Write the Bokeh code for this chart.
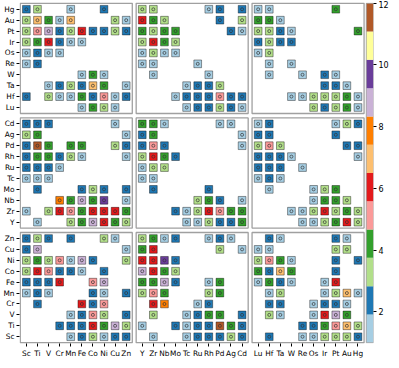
from bokeh.plotting import figure
from bokeh.models import (ColumnDataSource, LinearColorMapper, FixedTicker, Range1d,
                          AllLabels, LinearAxis)
from bokeh.palettes import Paired12
from bokeh.embed import file_html
from bokeh.resources import INLINE

# Row labels (top to bottom within each row block)
row_5d = ["Hg", "Au", "Pt", "Ir", "Os", "Re", "W", "Ta", "Hf", "Lu"]
row_4d = ["Cd", "Ag", "Pd", "Rh", "Ru", "Tc", "Mo", "Nb", "Zr", "Y"]
row_3d = ["Zn", "Cu", "Ni", "Co", "Fe", "Mn", "Cr", "V", "Ti", "Sc"]
# Column labels (left to right within each column block)
col_3d = ["Sc", "Ti", "V", "Cr", "Mn", "Fe", "Co", "Ni", "Cu", "Zn"]
col_4d = ["Y", "Zr", "Nb", "Mo", "Tc", "Ru", "Rh", "Pd", "Ag", "Cd"]
col_5d = ["Lu", "Hf", "Ta", "W", "Re", "Os", "Ir", "Pt", "Au", "Hg"]

# values 1..12 (0 = empty cell); rows top->bottom, columns left->right
m_5d_3d = [
    [2, 3, 0, 0, 1, 0, 0, 2, 0, 0],
    [3, 7, 4, 1, 7, 0, 0, 0, 3, 1],
    [3, 5, 9, 2, 3, 6, 2, 2, 3, 2],
    [3, 4, 6, 2, 1, 1, 0, 0, 0, 0],
    [1, 2, 1, 1, 0, 0, 0, 0, 0, 0],
    [1, 2, 0, 0, 0, 0, 0, 0, 0, 0],
    [0, 0, 0, 0, 0, 1, 4, 1, 0, 0],
    [0, 0, 1, 2, 3, 2, 7, 4, 0, 1],
    [2, 0, 3, 1, 1, 4, 2, 5, 1, 2],
    [0, 0, 0, 0, 0, 1, 4, 3, 1, 0],
]
m_5d_4d = [
    [3, 3, 0, 0, 0, 0, 1, 2, 0, 2],
    [6, 4, 3, 0, 0, 0, 0, 2, 0, 3],
    [4, 3, 4, 4, 0, 0, 0, 0, 2, 1],
    [3, 6, 4, 3, 0, 0, 0, 0, 0, 0],
    [1, 3, 1, 1, 0, 0, 0, 0, 0, 0],
    [1, 1, 0, 0, 0, 1, 0, 0, 0, 0],
    [0, 1, 0, 0, 0, 0, 1, 0, 0, 0],
    [0, 0, 0, 0, 1, 2, 2, 3, 0, 0],
    [0, 0, 0, 1, 2, 2, 2, 5, 2, 2],
    [0, 0, 0, 0, 1, 2, 2, 3, 2, 1],
]
m_5d_5d = [
    [1, 1, 0, 0, 0, 0, 0, 4, 0, 0],
    [4, 4, 1, 0, 0, 0, 0, 0, 0, 0],
    [3, 3, 2, 1, 0, 0, 0, 0, 0, 4],
    [2, 3, 2, 2, 0, 0, 0, 0, 0, 0],
    [1, 3, 0, 0, 0, 0, 0, 0, 0, 0],
    [0, 1, 0, 1, 0, 0, 0, 0, 0, 0],
    [0, 1, 0, 0, 1, 0, 2, 1, 0, 0],
    [0, 0, 0, 0, 0, 0, 2, 2, 1, 0],
    [0, 0, 0, 1, 1, 3, 3, 3, 4, 1],
    [0, 0, 0, 0, 0, 3, 2, 3, 4, 1],
]
m_4d_3d = [
    [2, 2, 2, 0, 0, 0, 0, 0, 1, 0],
    [3, 4, 0, 0, 0, 0, 0, 0, 0, 1],
    [2, 12, 4, 0, 4, 4, 0, 0, 3, 2],
    [2, 4, 4, 2, 3, 1, 0, 0, 0, 1],
    [2, 2, 2, 1, 0, 0, 0, 0, 0, 0],
    [1, 1, 1, 0, 0, 0, 0, 0, 0, 0],
    [0, 2, 0, 0, 0, 2, 3, 2, 0, 2],
    [0, 0, 0, 8, 4, 9, 4, 10, 0, 1],
    [1, 0, 3, 6, 5, 4, 6, 6, 6, 4],
    [0, 1, 0, 0, 3, 4, 9, 6, 4, 3],
]
m_4d_4d = [
    [4, 4, 1, 0, 0, 0, 0, 1, 1, 0],
    [2, 4, 0, 0, 0, 0, 0, 0, 0, 1],
    [2, 5, 2, 0, 0, 0, 0, 0, 0, 1],
    [3, 6, 4, 2, 0, 0, 0, 0, 0, 0],
    [1, 3, 3, 0, 0, 0, 0, 0, 0, 0],
    [1, 1, 0, 0, 0, 0, 0, 0, 0, 0],
    [0, 2, 0, 0, 0, 0, 2, 0, 0, 0],
    [0, 0, 0, 0, 0, 3, 4, 2, 0, 1],
    [0, 0, 0, 2, 1, 3, 6, 5, 4, 4],
    [0, 0, 0, 0, 1, 1, 3, 2, 2, 4],
]
m_4d_5d = [
    [1, 2, 0, 0, 0, 0, 0, 1, 3, 2],
    [2, 2, 0, 0, 0, 0, 0, 2, 0, 0],
    [3, 5, 3, 0, 0, 0, 0, 0, 2, 2],
    [2, 2, 2, 1, 0, 0, 0, 0, 0, 1],
    [2, 2, 2, 0, 1, 0, 0, 0, 0, 0],
    [1, 2, 1, 0, 0, 0, 0, 0, 0, 0],
    [0, 1, 0, 0, 0, 1, 3, 4, 0, 0],
    [0, 0, 0, 0, 0, 1, 4, 4, 3, 0],
    [0, 0, 0, 1, 1, 3, 6, 3, 4, 3],
    [0, 0, 0, 0, 1, 1, 3, 4, 6, 3],
]
m_3d_3d = [
    [2, 3, 2, 0, 2, 0, 0, 3, 1, 0],
    [2, 9, 0, 0, 0, 0, 0, 0, 0, 1],
    [3, 4, 3, 5, 1, 9, 2, 0, 0, 3],
    [3, 6, 5, 2, 2, 1, 0, 2, 0, 0],
    [2, 2, 2, 6, 0, 0, 5, 9, 0, 0],
    [1, 2, 1, 0, 0, 0, 2, 1, 0, 2],
    [0, 2, 0, 0, 0, 6, 2, 5, 0, 0],
    [0, 0, 0, 0, 1, 2, 5, 3, 0, 2],
    [0, 0, 0, 2, 2, 2, 6, 4, 9, 3],
    [0, 0, 0, 0, 1, 2, 3, 1, 2, 2],
]
m_3d_4d = [
    [3, 4, 1, 2, 0, 0, 1, 2, 1, 0],
    [4, 6, 0, 0, 0, 0, 0, 3, 0, 1],
    [6, 6, 10, 2, 0, 0, 0, 0, 0, 0],
    [9, 6, 4, 3, 0, 0, 0, 0, 0, 0],
    [4, 4, 9, 2, 0, 0, 1, 4, 0, 0],
    [3, 5, 4, 0, 0, 0, 3, 4, 0, 0],
    [0, 6, 8, 0, 0, 1, 2, 0, 0, 0],
    [0, 3, 0, 0, 1, 2, 4, 4, 0, 2],
    [1, 0, 0, 2, 1, 2, 2, 12, 4, 2],
    [0, 1, 0, 0, 1, 2, 2, 2, 3, 2],
]
m_3d_5d = [
    [0, 2, 1, 0, 0, 0, 0, 2, 1, 0],
    [1, 1, 0, 0, 0, 0, 0, 3, 3, 0],
    [3, 5, 4, 1, 0, 0, 0, 2, 0, 2],
    [4, 2, 7, 4, 0, 0, 0, 2, 0, 0],
    [1, 4, 2, 1, 0, 0, 1, 6, 0, 0],
    [0, 1, 3, 0, 0, 0, 1, 3, 7, 1],
    [0, 2, 2, 0, 0, 1, 2, 2, 1, 0],
    [0, 3, 1, 0, 0, 1, 6, 9, 4, 0],
    [0, 0, 0, 0, 2, 2, 4, 5, 7, 3],
    [0, 2, 0, 0, 1, 1, 3, 3, 3, 2],
]

colorbar_low, colorbar_high = 1, 12
colorbar_ticks = [2, 4, 6, 8, 10, 12]

row_blocks = [row_5d, row_4d, row_3d]
col_blocks = [col_3d, col_4d, col_5d]
panels = [
    [m_5d_3d, m_5d_4d, m_5d_5d],
    [m_4d_3d, m_4d_4d, m_4d_5d],
    [m_3d_3d, m_3d_4d, m_3d_5d],
]

P = 10.45   # column-block pitch (data units)
Q = 10.5    # row-block pitch (data units)
H = 0.55    # half extent of a panel frame beyond the outer cell centres (+0.5)
PAD = 0.07  # space between plot-frame edge and panel frames
CB_GAP = 0.2
CB_W = 0.65

xs, ys, vs = [], [], []
for i in range(3):
    for j in range(3):
        M = panels[i][j]
        for r in range(10):
            for k in range(10):
                v = M[r][k]
                if v:
                    xs.append(j * P + k)
                    ys.append((2 - i) * Q + (9 - r))
                    vs.append(v)
src = ColumnDataSource(dict(x=xs, y=ys, v=vs))

xticks, xlabels = [], {}
for j, cols in enumerate(col_blocks):
    for k, lab in enumerate(cols):
        t = round(j * P + k, 4)
        xticks.append(t)
        xlabels[t] = lab
yticks, ylabels = [], {}
for i, rows in enumerate(row_blocks):
    for r, lab in enumerate(rows):
        t = round((2 - i) * Q + (9 - r), 4)
        yticks.append(t)
        ylabels[t] = lab

y0, y1 = -H, 2 * Q + 9 + H          # panel frame vertical extent
x_right = 2 * P + 9 + H              # right edge of last panel frame
cb_x0 = x_right + CB_GAP
cb_x1 = cb_x0 + CB_W

p = figure(width=391, height=360,
           x_range=Range1d(-H - PAD, cb_x1),
           y_range=Range1d(y0 - PAD, y1 + PAD),
           output_backend="svg", toolbar_location=None,
           min_border_left=0, min_border_right=0,
           min_border_top=2, min_border_bottom=0)
p.outline_line_color = None
p.grid.visible = False

# colorbar scale: values low..high span the panel-frame height
k_cb = (colorbar_high - colorbar_low) / (y1 - y0)
p.extra_y_ranges = {"cb": Range1d(colorbar_low - PAD * k_cb, colorbar_high + PAD * k_cb)}

for ax, ticks, labels in ((p.xaxis[0], xticks, xlabels), (p.yaxis[0], yticks, ylabels)):
    ax.ticker = FixedTicker(ticks=ticks)
    ax.major_label_overrides = labels

cb_axis = LinearAxis(y_range_name="cb", ticker=FixedTicker(ticks=colorbar_ticks))
p.add_layout(cb_axis, "right")

for ax in (p.xaxis[0], p.yaxis[0], cb_axis):
    ax.major_label_policy = AllLabels()
    ax.axis_line_color = None
    ax.major_tick_in = 0
    ax.major_tick_out = 3
    ax.major_tick_line_color = "black"
    ax.minor_tick_line_color = None
    ax.major_label_text_font = "DejaVu Sans"
    ax.major_label_text_font_size = "7.4px"
    ax.major_label_text_color = "black"
    ax.major_label_standoff = 2
cb_axis.major_label_text_font_size = "8px"

# panel frames
fx, fy = [], []
for i in range(3):
    for j in range(3):
        fx.append(j * P + 4.5)
        fy.append((2 - i) * Q + 4.5)
p.rect(x=fx, y=fy, width=10 + 2 * (H - 0.5), height=10 + 2 * (H - 0.5), fill_color=None,
       line_color="#a0a0a0", line_width=1.3)

mapper = LinearColorMapper(palette=Paired12, low=colorbar_low, high=colorbar_high)
p.scatter("x", "y", source=src, marker="square", size=7.7,
          fill_color={"field": "v", "transform": mapper},
          line_color="black", line_alpha=0.4, line_width=1)
p.scatter("x", "y", source=src, marker="circle", size=3,
          fill_color={"field": "v", "transform": mapper},
          line_color="#333333", line_width=0.7)

# colorbar built from the palette bins
n = len(Paired12)
step = (colorbar_high - colorbar_low) / n
bins_b = [colorbar_low + b * step for b in range(n)]
bins_t = [colorbar_low + (b + 1) * step for b in range(n)]
p.quad(left=cb_x0, right=cb_x1, bottom=bins_b, top=bins_t, fill_color=list(Paired12),
       line_color=None, y_range_name="cb")
p.quad(left=cb_x0, right=cb_x1, bottom=colorbar_low, top=colorbar_high, fill_color=None,
       line_color="#999999", line_width=0.8, y_range_name="cb")

open("out.html", "w").write(file_html(p, INLINE))
